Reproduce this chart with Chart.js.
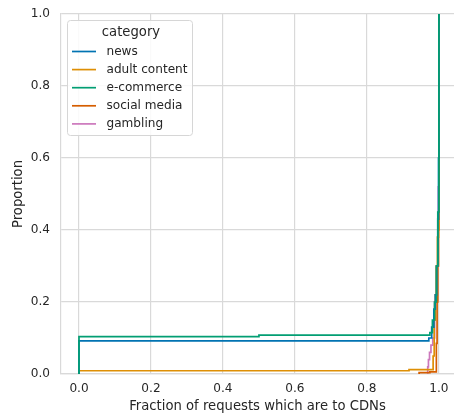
<!DOCTYPE html>
<html>
<head>
<meta charset="utf-8">
<script src="https://cdn.jsdelivr.net/npm/chart.js@4"></script>
<style>
  html, body { margin: 0; padding: 0; background: #ffffff; }
  #wrap { position: relative; width: 454px; height: 419px; }
</style>
</head>
<body>
<div id="wrap"><canvas id="ecdfChart" width="454" height="419"></canvas></div>
<script>
// Curvas ECDF (x = fraccion, y = proporcion acumulada)
const categories = ["news", "adult content", "e-commerce", "social media", "gambling"];
const colors = ["#0173B2", "#DE8F05", "#029E73", "#D55E00", "#CC78BC"];

const newsX = [0, 0, 0.972, 0.98, 0.986, 0.99, 0.994, 0.997, 0.999, 1.0];
const newsY = [0, 0.092, 0.1, 0.13, 0.18, 0.22, 0.3, 0.43, 0.6, 1.0];

const adultX = [0, 0, 0.917, 0.984, 0.987, 0.99, 0.993, 0.996, 0.999, 1.0];
const adultY = [0, 0.009, 0.012, 0.05, 0.15, 0.22, 0.3, 0.38, 0.45, 1.0];

const ecomX = [0, 0, 0.5, 0.975, 0.982, 0.988, 0.993, 0.997, 1.0];
const ecomY = [0, 0.104, 0.108, 0.115, 0.15, 0.2, 0.3, 0.45, 1.0];

const socialX = [0.945, 0.945, 0.975, 0.993, 0.995, 0.997, 0.999, 1.0];
const socialY = [0, 0.004, 0.006, 0.085, 0.2, 0.3, 0.4, 1.0];

const gamblingX = [0.967, 0.969, 0.971, 0.974, 0.978, 0.983, 0.988, 0.993, 0.997, 0.9985, 1.0];
const gamblingY = [0.003, 0.02, 0.04, 0.06, 0.08, 0.1, 0.2, 0.3, 0.43, 0.52, 1.0];

const xTicks = [0, 0.2, 0.4, 0.6, 0.8, 1.0];
const yTicks = [0, 0.2, 0.4, 0.6, 0.8, 1.0];

const seriesX = [newsX, adultX, ecomX, socialX, gamblingX];
const seriesY = [newsY, adultY, ecomY, socialY, gamblingY];
// orden de dibujo: e-commerce encima
const drawOrder = [1, 3, 0, 4, 5];

const font = "'DejaVu Sans', sans-serif";
const textColor = "#262626";
const gridColor = "#d9d9d9";

const datasets = categories.map((name, i) => ({
  label: name,
  data: seriesX[i].map((x, j) => ({ x: x, y: seriesY[i][j] })),
  borderColor: colors[i],
  backgroundColor: colors[i],
  borderWidth: 1.7,
  pointRadius: 0,
  stepped: true,
  fill: false,
  order: drawOrder[i],
}));

// leyenda dentro del area del grafico
const legendBox = {
  id: "legendBox",
  afterDraw(chart) {
    const ctx = chart.ctx;
    const area = chart.chartArea;
    const bx = area.left + 6.5, by = area.top + 6.5, bw = 125, bh = 115;
    ctx.save();
    ctx.beginPath();
    ctx.roundRect(bx, by, bw, bh, 3);
    ctx.fillStyle = "rgba(255,255,255,0.85)";
    ctx.fill();
    ctx.strokeStyle = "#d6d6d6";
    ctx.lineWidth = 1;
    ctx.stroke();

    ctx.fillStyle = textColor;
    ctx.textBaseline = "middle";
    ctx.textAlign = "center";
    ctx.font = "13.2px " + font;
    ctx.fillText("category", bx + bw / 2 + 1, by + 12);

    ctx.textAlign = "left";
    ctx.font = "12.1px " + font;
    categories.forEach((name, i) => {
      const y = by + 31 + i * 18.1;
      ctx.beginPath();
      ctx.moveTo(bx + 4.5, y);
      ctx.lineTo(bx + 28.5, y);
      ctx.strokeStyle = colors[i];
      ctx.lineWidth = 1.7;
      ctx.stroke();
      ctx.fillText(name, bx + 39, y);
    });
    ctx.restore();
  },
};

const config = {
  type: "line",
  data: { datasets: datasets },
  options: {
    responsive: false,
    animation: false,
    layout: { padding: { top: 14, right: 0, left: 0, bottom: 0 } },
    plugins: {
      legend: { display: false },
      tooltip: { enabled: false },
    },
    scales: {
      x: {
        type: "linear",
        min: -0.05,
        max: 1.042,
        afterBuildTicks: (scale) => { scale.ticks = xTicks.map((v) => ({ value: v })); },
        afterFit: (scale) => {
          scale.height = 45;
          scale.paddingLeft = 0;
          scale.paddingRight = 0;
        },
        ticks: {
          padding: 8,
          color: textColor,
          font: { family: font, size: 12.1 },
          callback: (v) => v.toFixed(1),
          maxRotation: 0,
          autoSkip: false,
        },
        grid: { color: gridColor, lineWidth: 1.2, drawTicks: false },
        border: { color: gridColor, width: 1.2 },
        title: {
          display: true,
          text: "Fraction of requests which are to CDNs",
          color: textColor,
          font: { family: font, size: 13.2 },
          padding: { top: 0, bottom: 5 },
        },
      },
      y: {
        type: "linear",
        min: 0,
        max: 1,
        afterBuildTicks: (scale) => { scale.ticks = yTicks.map((v) => ({ value: v })); },
        afterFit: (scale) => {
          scale.width = 61;
          scale.paddingTop = 0;
          scale.paddingBottom = 0;
        },
        ticks: {
          padding: 11,
          color: textColor,
          font: { family: font, size: 12.1 },
          callback: (v) => v.toFixed(1),
        },
        grid: { color: gridColor, lineWidth: 1.2, drawTicks: false },
        border: { color: gridColor, width: 1.2 },
        title: {
          display: true,
          text: "Proportion",
          color: textColor,
          font: { family: font, size: 13.2 },
          padding: { top: 11, bottom: 0 },
        },
      },
    },
  },
  plugins: [legendBox],
};

const ctx = document.getElementById("ecdfChart").getContext("2d");
new Chart(ctx, config);
</script>
</body>
</html>
